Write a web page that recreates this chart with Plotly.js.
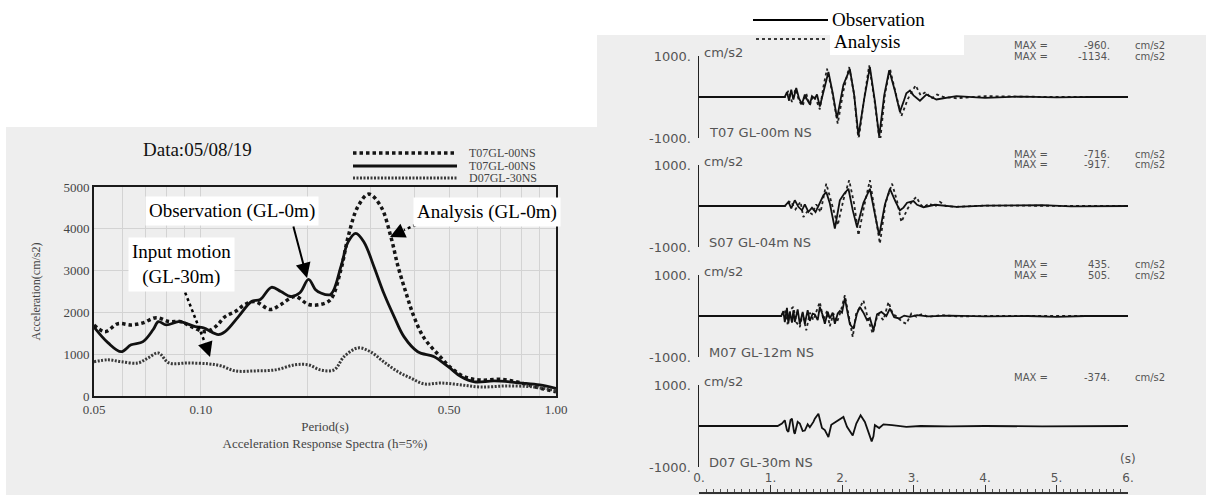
<!DOCTYPE html>
<html><head><meta charset="utf-8">
<script src="https://cdn.plot.ly/plotly-3.0.1.min.js"></script>
<style>html,body{margin:0;padding:0;background:#fff}</style>
</head><body>
<div id="chart" style="width:1206px;height:495px"></div>
<script>
// ---------------- Left: acceleration response spectra ----------------
const spectraTitle = 'Data:05/08/19';
const periodTickVals = [0.05, 0.10, 0.50, 1.00];
const periodTickText = ['0.05', '0.10', '0.50', '1.00'];
const accelTickVals = [0, 1000, 2000, 3000, 4000, 5000];
const spectraLegend = ['T07GL-00NS', 'T07GL-00NS', 'D07GL-30NS'];

// [period (s), acceleration (cm/s2)]
const obsSpectrum = [[0.05,1650],[0.0548,1270],[0.0596,1060],[0.0636,1225],[0.0687,1300],[0.0734,1590],[0.0759,1780],[0.0799,1700],[0.0864,1780],[0.090,1750],[0.0964,1660],[0.1017,1630],[0.112,1470],[0.117,1540],[0.1276,1900],[0.1389,2260],[0.147,2310],[0.158,2600],[0.168,2500],[0.179,2380],[0.19,2470],[0.201,2790],[0.21,2550],[0.217,2470],[0.232,2430],[0.248,3100],[0.2596,3680],[0.273,3890],[0.288,3680],[0.307,3100],[0.327,2470],[0.35,1900],[0.373,1420],[0.408,1060],[0.454,940],[0.497,700],[0.541,460],[0.589,340],[0.67,360],[0.8,310],[0.9,265],[1.0,180]];
const anaSpectrum = [[0.05,1700],[0.0537,1540],[0.0584,1730],[0.0636,1700],[0.0687,1750],[0.0749,1875],[0.0813,1780],[0.0877,1780],[0.094,1660],[0.1028,1540],[0.110,1660],[0.117,1900],[0.125,2020],[0.133,2190],[0.142,2260],[0.157,2070],[0.168,2190],[0.184,2380],[0.201,2190],[0.217,2190],[0.232,2310],[0.248,3030],[0.26,3820],[0.277,4540],[0.297,4830],[0.321,4540],[0.343,3800],[0.359,3100],[0.378,2470],[0.398,1900],[0.425,1390],[0.466,990],[0.507,670],[0.552,460],[0.615,380],[0.70,400],[0.8,310],[0.9,190],[1.0,100]];
const inputSpectrum = [[0.05,820],[0.0548,865],[0.0596,820],[0.0665,790],[0.0710,910],[0.0759,1030],[0.0813,790],[0.092,790],[0.105,770],[0.114,720],[0.125,600],[0.142,600],[0.162,625],[0.184,745],[0.201,745],[0.217,625],[0.237,625],[0.253,940],[0.277,1150],[0.30,1060],[0.327,820],[0.359,580],[0.39,430],[0.425,290],[0.475,310],[0.541,265],[0.615,215],[0.73,240],[0.87,215],[1.0,130]];

// ---------------- Right: acceleration time histories ----------------
const stationLabels = ['T07 GL-00m NS', 'S07 GL-04m NS', 'M07 GL-12m NS', 'D07 GL-30m NS'];
const maxObs = ['-960.', '-716.', '435.', '-374.'];
const maxAna = ['-1134.', '-917.', '505.', null];
const timeTickVals = [0, 1, 2, 3, 4, 5, 6];
const timeTickText = ['0.', '1.', '2.', '3.', '4.', '5.', '6.'];
const ampTickVals = [-1000, 1000];
const ampTickText = ['-1000.', '1000.'];

// [time (s), acceleration (cm/s2)]
const T07obs = [[0,0],[1.20,0],[1.23,120],[1.26,-90],[1.29,180],[1.32,-60],[1.36,220],[1.40,-40],[1.44,-170],[1.48,60],[1.51,-60],[1.55,-180],[1.58,20],[1.62,-40],[1.65,60],[1.69,-230],[1.74,120],[1.81,610],[1.87,100],[1.93,-520],[2.02,300],[2.11,680],[2.17,50],[2.23,-940],[2.31,-50],[2.39,730],[2.46,-100],[2.52,-960],[2.59,40],[2.66,650],[2.74,150],[2.81,-360],[2.86,-120],[2.90,90],[2.95,160],[3.00,40],[3.09,-90],[3.18,60],[3.32,-60],[3.6,20],[4.0,-20],[4.5,10],[5.0,-10],[5.5,5],[6.0,0]];
const T07ana = [[0,0],[1.20,0],[1.25,150],[1.30,-120],[1.35,200],[1.40,-100],[1.45,-220],[1.50,80],[1.55,-200],[1.60,40],[1.65,-120],[1.69,-300],[1.74,250],[1.79,690],[1.86,150],[1.94,-650],[2.02,150],[2.10,730],[2.17,60],[2.23,-1060],[2.31,-40],[2.38,770],[2.46,-150],[2.53,-1134],[2.60,60],[2.67,690],[2.75,100],[2.83,-470],[2.92,-50],[3.03,285],[3.10,40],[3.17,120],[3.25,-40],[3.33,60],[3.42,0],[3.6,-30],[4.0,20],[5.0,0],[6.0,0]];
const S07obs = [[0,0],[1.20,0],[1.25,100],[1.29,-60],[1.34,140],[1.39,-20],[1.44,-105],[1.48,40],[1.53,-145],[1.58,-40],[1.63,-150],[1.69,60],[1.74,260],[1.78,340],[1.83,60],[1.90,-550],[1.97,140],[2.03,300],[2.09,420],[2.15,-100],[2.21,-510],[2.30,80],[2.39,420],[2.46,-200],[2.52,-716],[2.60,40],[2.67,420],[2.75,100],[2.81,-105],[2.86,-40],[2.91,80],[3.00,120],[3.05,30],[3.14,-30],[3.3,30],[3.6,-20],[4.0,10],[4.8,20],[5.2,-10],[6.0,0]];
const S07ana = [[0,0],[1.20,0],[1.28,120],[1.35,-80],[1.42,100],[1.46,-270],[1.52,-120],[1.58,-200],[1.64,40],[1.70,-150],[1.78,545],[1.85,100],[1.94,-470],[2.02,150],[2.10,630],[2.17,50],[2.23,-715],[2.31,0],[2.39,630],[2.46,-150],[2.53,-917],[2.61,80],[2.70,545],[2.77,120],[2.83,-390],[2.92,-60],[2.98,120],[3.04,220],[3.10,30],[3.14,-30],[3.22,60],[3.30,-20],[3.37,100],[3.45,0],[3.6,-20],[4.0,10],[5.0,0],[6.0,0]];
const M07obs = [[0,0],[1.15,0],[1.18,120],[1.20,-150],[1.23,200],[1.25,-180],[1.27,100],[1.30,-160],[1.32,140],[1.34,-145],[1.38,160],[1.41,-200],[1.45,100],[1.48,-190],[1.52,140],[1.55,-120],[1.59,60],[1.62,40],[1.66,-100],[1.69,220],[1.73,20],[1.76,-190],[1.80,100],[1.83,-60],[1.87,80],[1.90,-190],[1.94,60],[1.97,120],[2.00,80],[2.04,435],[2.08,60],[2.11,-200],[2.16,-310],[2.21,60],[2.25,220],[2.30,80],[2.35,-100],[2.39,-50],[2.44,-350],[2.49,40],[2.55,100],[2.62,0],[2.67,180],[2.73,-30],[2.80,-60],[2.87,10],[2.95,-20],[3.05,20],[3.2,-10],[3.5,10],[4.0,-10],[4.6,0],[5.0,-20],[5.4,0],[6.0,0]];
const M07ana = [[0,0],[1.15,0],[1.20,150],[1.24,-200],[1.28,160],[1.32,220],[1.36,-150],[1.41,-270],[1.45,60],[1.50,-350],[1.55,80],[1.60,-100],[1.65,150],[1.69,340],[1.74,-100],[1.79,120],[1.83,-250],[1.88,60],[1.93,-150],[1.98,100],[2.04,505],[2.10,-100],[2.15,-510],[2.20,80],[2.25,200],[2.30,380],[2.36,-50],[2.43,-430],[2.50,50],[2.58,-100],[2.65,340],[2.71,50],[2.77,-20],[2.84,-140],[2.90,-190],[2.97,60],[3.04,-20],[3.12,50],[3.2,-20],[3.4,20],[3.6,-10],[4.0,0],[6.0,0]];
const D07obs = [[0,0],[1.10,0],[1.16,60],[1.20,140],[1.23,-100],[1.25,-145],[1.28,150],[1.30,180],[1.33,-150],[1.34,-190],[1.38,100],[1.41,60],[1.45,-120],[1.48,-110],[1.52,40],[1.55,-30],[1.60,100],[1.62,180],[1.67,300],[1.72,-50],[1.76,-100],[1.81,-270],[1.85,30],[1.88,60],[1.95,140],[2.02,220],[2.07,-20],[2.10,-100],[2.15,-230],[2.20,60],[2.26,260],[2.32,100],[2.36,-100],[2.40,-250],[2.415,-374],[2.44,-250],[2.46,20],[2.52,-50],[2.58,40],[2.70,20],[2.9,-20],[3.1,0],[3.5,-10],[4.0,0],[4.8,-10],[6.0,0]];

const histObs = [T07obs, S07obs, M07obs, D07obs];
const histAna = [T07ana, S07ana, M07ana, null];

// ---------------- helpers (positions only) ----------------
const W = 1206, H = 495;
const px = x => x / W;
const py = y => 1 - y / H;
const col = (arr, i) => arr.map(r => r[i]);
const SERIF = 'Liberation Serif, Times New Roman, serif';
const SANS = 'DejaVu Sans, Liberation Sans, sans-serif';
const zeroY = [97, 206, 316, 426];   // pixel rows of each zero line
const HALF = 41;                      // px for 1000 cm/s2

const traces = [];
traces.push({x: col(anaSpectrum,0), y: col(anaSpectrum,1), xaxis:'x', yaxis:'y', mode:'lines', name:spectraLegend[0],
  line:{color:'#151515', width:3.5, dash:'3.5px,3px', shape:'spline', smoothing:1}});
traces.push({x: col(obsSpectrum,0), y: col(obsSpectrum,1), xaxis:'x', yaxis:'y', mode:'lines', name:spectraLegend[1],
  line:{color:'#111', width:2.8, shape:'spline', smoothing:1}});
traces.push({x: col(inputSpectrum,0), y: col(inputSpectrum,1), xaxis:'x', yaxis:'y', mode:'lines', name:spectraLegend[2],
  line:{color:'#3a3a3a', width:3, dash:'2px,1.5px', shape:'spline', smoothing:1}});

for (let i = 0; i < 4; i++) {
  const xa = 'x' + (i + 2), ya = 'y' + (i + 2);
  if (histAna[i]) traces.push({x: col(histAna[i],0), y: col(histAna[i],1), xaxis: xa, yaxis: ya, mode:'lines',
    name:'Analysis', line:{color:'#222', width:1.8, dash:'dot'}});
  traces.push({x: col(histObs[i],0), y: col(histObs[i],1), xaxis: xa, yaxis: ya, mode:'lines',
    name:'Observation', line:{color:'#111', width:1.8}});
}

const layout = {
  width: W, height: H, margin:{l:0, r:0, t:0, b:0}, showlegend:false,
  paper_bgcolor:'#ffffff', plot_bgcolor:'rgba(0,0,0,0)',
  xaxis: {type:'log', domain:[px(94), px(556)], range:[Math.log10(0.05), 0], anchor:'y',
    tickmode:'array', tickvals: periodTickVals, ticktext: periodTickText, ticks:'',
    showgrid:true, gridcolor:'#d3d3d3', gridwidth:1,
    minor:{tickmode:'array', tickvals:[0.06,0.07,0.08,0.09,0.2,0.3,0.4,0.6,0.7,0.8,0.9], showgrid:true, gridcolor:'#d3d3d3', gridwidth:1, ticks:''},
    showline:true, mirror:true, linecolor:'#1a1a1a', linewidth:2, zeroline:false,
    tickfont:{family:SERIF, size:13, color:'#444'},
    title:{text:'Period(s)<br>Acceleration Response Spectra (h=5%)', font:{family:SERIF, size:13, color:'#444'}, standoff:6}},
  yaxis: {domain:[py(396), py(187)], range:[0, 5000], anchor:'x', tickmode:'array', tickvals: accelTickVals, ticks:'',
    showgrid:true, gridcolor:'#d3d3d3', gridwidth:1,
    showline:true, mirror:true, linecolor:'#1a1a1a', linewidth:2, zeroline:false,
    tickfont:{family:SERIF, size:13, color:'#444'},
    title:{text:'Acceleration(cm/s2)', font:{family:SERIF, size:12, color:'#444'}, standoff:20}},
  shapes: [], annotations: []
};

for (let i = 0; i < 4; i++) {
  const n = i + 2;
  const xa = {domain:[px(699), px(1128)], range:[0, 6], anchor:'y' + n, showgrid:false, zeroline:false,
    showline:false, showticklabels:false, ticks:''};
  if (i === 3) {
    Object.assign(xa, {anchor:'free', position: py(492), showline:true, linecolor:'#333', linewidth:1.5,
      ticks:'inside', ticklen:7, tickwidth:1, tickcolor:'#333', tickmode:'array', tickvals: timeTickVals, ticktext: timeTickText,
      showticklabels:true, ticklabelposition:'inside', ticklabeloverflow:'allow',
      tickfont:{family:SANS, size:12, color:'#555'},
      minor:{dtick:0.1, ticks:'inside', ticklen:3, tickcolor:'#555', showgrid:false}});
  }
  layout['xaxis' + n] = xa;
  layout['yaxis' + n] = {domain:[py(zeroY[i] + HALF), py(zeroY[i] - HALF)], range:[-1000, 1000], anchor:'x' + n,
    showgrid:false, zeroline:false, showline:true, linecolor:'#222', linewidth:1.5,
    ticks:'inside', ticklen:4, tickwidth:1.5, tickcolor:'#222', tickmode:'array', tickvals: ampTickVals, ticktext: ampTickText,
    ticklabelstandoff:4, tickfont:{family:SANS, size:13, color:'#555'}};
}

// backgrounds
layout.shapes.push({type:'rect', xref:'paper', yref:'paper', x0:px(6), x1:px(598), y0:0, y1:py(127), fillcolor:'#eeeeee', line:{width:0}, layer:'below'});
layout.shapes.push({type:'rect', xref:'paper', yref:'paper', x0:px(597), x1:1, y0:0, y1:py(35), fillcolor:'#eeeeee', line:{width:0}, layer:'below'});
layout.shapes.push({type:'rect', xref:'paper', yref:'paper', x0:px(830), x1:px(964), y0:py(55), y1:py(34), fillcolor:'#ffffff', line:{width:0}, layer:'below'});
// legend samples (left)
const lLeg = [[153, {color:'#151515', width:3.5, dash:'3.5px,3px'}], [166, {color:'#111', width:2.8}], [178, {color:'#3a3a3a', width:3, dash:'2px,1.5px'}]];
lLeg.forEach(([y, ln], k) => {
  layout.shapes.push({type:'line', xref:'paper', yref:'paper', x0:px(353), x1:px(457), y0:py(y), y1:py(y), line:ln});
  layout.annotations.push({xref:'paper', yref:'paper', x:px(467), y:py(y), xanchor:'left', yanchor:'middle', showarrow:false,
    text: spectraLegend[k], font:{family:SERIF, size:12, color:'#444'}});
});
// legend samples (right)
layout.shapes.push({type:'line', xref:'paper', yref:'paper', x0:px(753), x1:px(828), y0:py(20), y1:py(20), line:{color:'#000', width:2}});
layout.shapes.push({type:'line', xref:'paper', yref:'paper', x0:px(756), x1:px(827), y0:py(39), y1:py(39), line:{color:'#000', width:1.6, dash:'dot'}});
layout.annotations.push({xref:'paper', yref:'paper', x:px(830), y:py(19), xanchor:'left', yanchor:'middle', showarrow:false,
  text:'Observation', font:{family:SERIF, size:19, color:'#000'}});
layout.annotations.push({xref:'paper', yref:'paper', x:px(832), y:py(42), xanchor:'left', yanchor:'middle', showarrow:false,
  text:'Analysis', font:{family:SERIF, size:19, color:'#000'}});

// left title and callouts
layout.annotations.push({xref:'paper', yref:'paper', x:px(197), y:py(150), xanchor:'center', yanchor:'middle', showarrow:false, text: spectraTitle,
  font:{family:SERIF, size:19, color:'#111'}});
const box = (text, x, y) => ({xref:'paper', yref:'paper', x:px(x), y:py(y), xanchor:'center', yanchor:'middle', showarrow:false, text,
  bgcolor:'#ffffff', borderpad:3, font:{family:SERIF, size:19, color:'#000'}});
// dotted leader lines
layout.shapes.push({type:'line', xref:'paper', yref:'paper', x0:px(427), y0:py(220), x1:px(404), y1:py(230), line:{color:'#000', width:2.5, dash:'dot'}});
layout.shapes.push({type:'line', xref:'paper', yref:'paper', x0:px(183), y0:py(287), x1:px(205), y1:py(343), line:{color:'#000', width:2.5, dash:'dot'}});
const arrow = (x, y, ax, ay) => ({xref:'paper', yref:'paper', x:px(x), y:py(y), ax, ay, text:'', showarrow:true,
  arrowhead:2, arrowsize:1.5, arrowwidth:2, arrowcolor:'#000', standoff:0});
layout.annotations.push(arrow(307, 278, -14, -53));
layout.annotations.push(arrow(390, 237, 15, -7));
layout.annotations.push(arrow(210, 357, -5, -15));
layout.annotations.push(box('Observation (GL-0m)', 232, 211));
layout.annotations.push(box('Analysis (GL-0m)', 487, 212));
layout.annotations.push(box('Input motion<br>(GL-30m)', 181, 264));

// right texts
for (let i = 0; i < 4; i++) {
  const z = zeroY[i];
  const t = (text, x, y, xanchor, size) => ({xref:'paper', yref:'paper', x:px(x), y:py(y), xanchor, yanchor:'middle',
    showarrow:false, text, font:{family:SANS, size, color:'#555'}});
  layout.annotations.push(t('cm/s2', 702, z - 45, 'left', 13));
  layout.annotations.push(t(stationLabels[i], 707, z + 36, 'left', 13));
  const rows = maxAna[i] ? [[maxObs[i], z - 52], [maxAna[i], z - 41]] : [[maxObs[i], z - 49]];
  rows.forEach(([v, y]) => {
    layout.annotations.push(t('MAX =', 1012, y, 'left', 10));
    layout.annotations.push(t(v, 1112, y, 'right', 10));
    layout.annotations.push(t('cm/s2', 1133, y, 'left', 10));
  });
}
layout.annotations.push({xref:'paper', yref:'paper', x:px(1128), y:py(459), xanchor:'center', yanchor:'middle', showarrow:false, text:'(s)',
  font:{family:SANS, size:12, color:'#555'}});

Plotly.newPlot('chart', traces, layout, {displayModeBar:false, staticPlot:true});
</script>
</body></html>
